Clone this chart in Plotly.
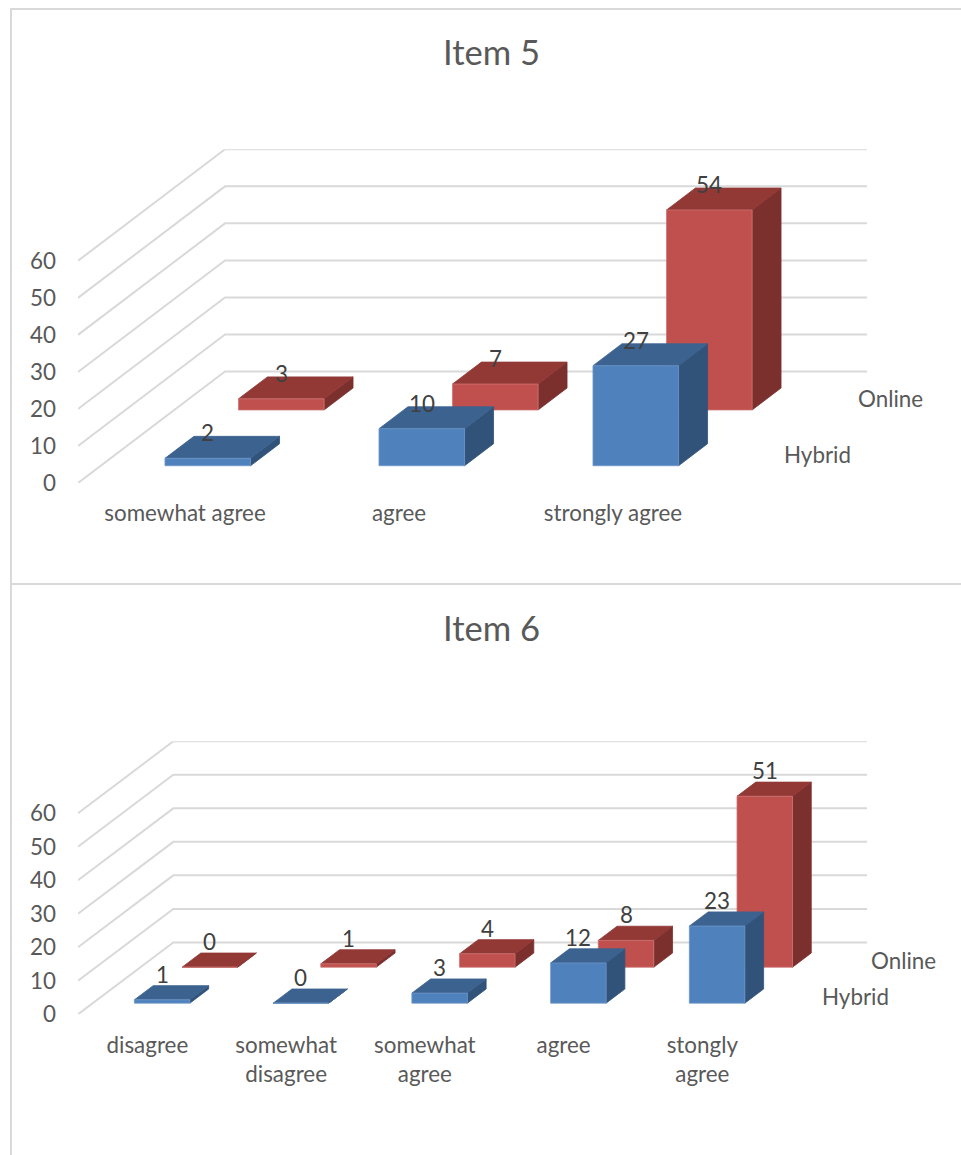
import plotly.graph_objects as go

# Survey responses per agreement level
item5_categories = ["somewhat agree", "agree", "strongly agree"]
item5_hybrid = [2, 10, 27]
item5_online = [3, 7, 54]

item6_categories = ["disagree", "somewhat<br>disagree", "somewhat<br>agree", "agree", "stongly<br>agree"]
item6_hybrid = [1, 0, 3, 12, 23]
item6_online = [0, 1, 4, 8, 51]

value_ticks = [0, 10, 20, 30, 40, 50, 60]
series_names = ["Hybrid", "Online"]

WIDTH, HEIGHT = 961, 1155
FONT = "Lato"
AXIS_TEXT = "#595959"
VALUE_TEXT = "#404040"
GRID = "#D9D9D9"
BLUE = {"front": "#4F81BD", "top": "#3C6290", "side": "#325379", "edge": "#6E97C9"}
RED = {"front": "#C0504D", "top": "#923936", "side": "#7C302E", "edge": "#CE7573"}

AXIS_SIZE = 22.4
TITLE_SIZE = 34.6
LABEL_GAP_X = 15
LABEL_GAP_Y = 21

# Each series occupies a slab of the floor's depth (0 = front, 1 = back wall)
BAR_WIDTH = 0.40
SLABS = [(0.155, 0.352), (0.655, 0.852)]


def project(x, v, d, skew_x, skew_y):
    # Oblique projection: depth slides a point right and up in axis units
    return x + d * skew_x, v + d * skew_y


def panel(fig, idx, cats, hybrid, online, title, title_y, floor_y, back_floor_y, top_y, depth_px, label_shift):
    left, right = 78, 867
    suffix = "" if idx == 1 else str(idx)
    xref, yref = "x" + suffix, "y" + suffix
    n = len(cats)
    px_per_cat = (right - depth_px - left) / n
    skew_x = depth_px / px_per_cat
    px_per_value = (back_floor_y - top_y) / value_ticks[-1]
    skew_y = (floor_y - back_floor_y) / px_per_value

    fig.update_layout({
        "xaxis" + suffix: dict(
            domain=[left / WIDTH, right / WIDTH], range=[0, n + skew_x],
            tickmode="array", tickvals=[i + 0.5 for i in range(n)], ticktext=cats,
            showgrid=False, zeroline=False, showline=False, ticks="", automargin=False,
            ticklabelstandoff=LABEL_GAP_X, anchor=yref, fixedrange=True,
            tickfont=dict(family=FONT, size=AXIS_SIZE, color=AXIS_TEXT),
        ),
        "yaxis" + suffix: dict(
            domain=[1 - floor_y / HEIGHT, 1 - top_y / HEIGHT], range=[0, value_ticks[-1] + skew_y],
            tickmode="array", tickvals=value_ticks,
            showgrid=False, zeroline=False, showline=False, ticks="", automargin=False,
            ticklabelstandoff=LABEL_GAP_Y, anchor=xref, fixedrange=True,
            tickfont=dict(family=FONT, size=AXIS_SIZE, color=AXIS_TEXT),
        ),
    })

    # Side wall and back wall gridlines
    gx, gy = [], []
    for v in value_ticks:
        for x, d in [(0, 0), (0, 1), (n, 1)]:
            px, py = project(x, v, d, skew_x, skew_y)
            gx.append(px)
            gy.append(py)
        gx.append(None)
        gy.append(None)
    fig.add_trace(go.Scatter(x=gx, y=gy, mode="lines", line=dict(color=GRID, width=2),
                             hoverinfo="skip", xaxis=xref, yaxis=yref, cliponaxis=False))

    # Back series first so the front series overlaps it
    annotations = []
    for values, palette, (d0, d1), name in [(online, RED, SLABS[1], series_names[1]),
                                            (hybrid, BLUE, SLABS[0], series_names[0])]:
        faces = {"side": ([], []), "top": ([], []), "front": ([], [])}
        for i, v in enumerate(values):
            x0, x1 = i + 0.5 - BAR_WIDTH / 2, i + 0.5 + BAR_WIDTH / 2
            corners = {
                "front": [(x0, 0, d0), (x1, 0, d0), (x1, v, d0), (x0, v, d0)],
                "top": [(x0, v, d0), (x1, v, d0), (x1, v, d1), (x0, v, d1)],
                "side": [(x1, 0, d0), (x1, 0, d1), (x1, v, d1), (x1, v, d0)],
            }
            for face, pts in corners.items():
                xs, ys = faces[face]
                for p in pts + [pts[0]]:
                    px, py = project(p[0], p[1], p[2], skew_x, skew_y)
                    xs.append(px)
                    ys.append(py)
                xs.append(None)
                ys.append(None)
            lx, _ = project(i + 0.5, v, d0, skew_x, skew_y)
            _, ly = project(i + 0.5, v, d1, skew_x, skew_y)
            annotations.append(dict(x=lx, y=ly, xref=xref, yref=yref, text=str(v), showarrow=False,
                                    xanchor="center", yanchor="middle", yshift=label_shift,
                                    font=dict(family=FONT, size=AXIS_SIZE, color=VALUE_TEXT)))
        for face, (xs, ys) in faces.items():
            edge = palette["edge"] if face == "front" else palette[face]
            fig.add_trace(go.Scatter(x=xs, y=ys, mode="lines", fill="toself", fillcolor=palette[face],
                                     line=dict(color=edge, width=0.8), name=name,
                                     hoverinfo="skip", xaxis=xref, yaxis=yref, cliponaxis=False))

        # Series name sits beyond the floor's right edge, level with its slab
        sx, sy = project(n, 0, (d0 + d1) / 2, skew_x, skew_y)
        annotations.append(dict(x=sx, y=sy, xref=xref, yref=yref, text=name, showarrow=False,
                                xanchor="center", yanchor="middle", xshift=60,
                                font=dict(family=FONT, size=AXIS_SIZE, color=AXIS_TEXT)))

    annotations.append(dict(x=491 / WIDTH, y=1 - title_y / HEIGHT, xref="paper", yref="paper", text=title,
                            showarrow=False, xanchor="center", yanchor="middle",
                            font=dict(family=FONT, size=TITLE_SIZE, color=AXIS_TEXT)))
    for a in annotations:
        fig.add_annotation(a)


fig = go.Figure()
panel(fig, 1, item5_categories, item5_hybrid, item5_online, "Item 5", 51.5,
      floor_y=483, back_floor_y=371.5, top_y=149.3, depth_px=147, label_shift=3.5)
panel(fig, 2, item6_categories, item6_hybrid, item6_online, "Item 6", 627.5,
      floor_y=1014.3, back_floor_y=942.4, top_y=741.3, depth_px=95.3, label_shift=11.6)

# Chart area borders
border = dict(type="line", xref="paper", yref="paper", line=dict(color=GRID, width=2))
fig.add_shape(border, x0=11 / WIDTH, x1=11 / WIDTH, y0=0, y1=1 - 9 / HEIGHT)
fig.add_shape(border, x0=10 / WIDTH, x1=1, y0=1 - 9 / HEIGHT, y1=1 - 9 / HEIGHT)
fig.add_shape(border, x0=11 / WIDTH, x1=1, y0=1 - 584 / HEIGHT, y1=1 - 584 / HEIGHT)

fig.update_layout(width=WIDTH, height=HEIGHT, margin=dict(l=0, r=0, t=0, b=0),
                  paper_bgcolor="white", plot_bgcolor="white", showlegend=False)

fig.write_html("out.html", config=dict(displayModeBar=False))
